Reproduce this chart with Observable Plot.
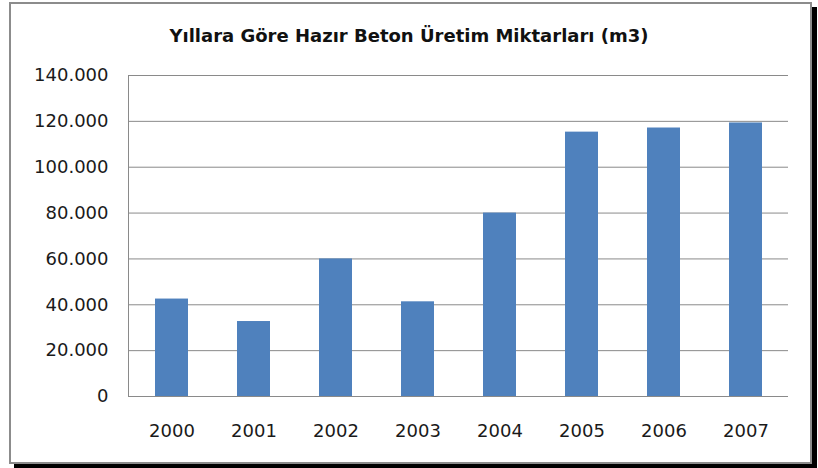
<!DOCTYPE html>
<html>
<head>
<meta charset="utf-8">
<script src="https://cdn.jsdelivr.net/npm/d3@7"></script>
<script src="https://cdn.jsdelivr.net/npm/@observablehq/plot@0.6"></script>
<style>
  html, body { margin: 0; padding: 0; background: #fff; }
  #wrap { position: relative; width: 818px; height: 468px; overflow: hidden; }
  #frame { position: absolute; left: 9px; top: 2px; width: 799px; height: 458px;
           border: 2px solid #8c8c8c; box-shadow: 5px 5px 0 #000; background: #fff; }
  #title { position: absolute; left: 0; top: 25px; width: 818px; text-align: center;
           font-family: "DejaVu Sans", sans-serif; font-weight: bold; font-size: 18px; color: #111; line-height: 22px; }
  #chart { position: absolute; left: 0; top: 0; }
</style>
</head>
<body>
<div id="wrap">
  <div id="frame"></div>
  <div id="title">Yıllara Göre Hazır Beton Üretim Miktarları (m3)</div>
  <div id="chart"></div>
</div>
<script>
const years = ["2000", "2001", "2002", "2003", "2004", "2005", "2006", "2007"];
const production = [42500, 32700, 60000, 41300, 80000, 115300, 117100, 119300];
const yTicks = [0, 20000, 40000, 60000, 80000, 100000, 120000, 140000];

const data = years.map((y, i) => ({year: y, value: production[i]}));
const fmt = d => d === 0 ? "0" : d3.format(",")(d).replace(/,/g, ".");

const chart = Plot.plot({
  width: 818,
  height: 468,
  marginLeft: 128,
  marginRight: 30,
  marginTop: 75,
  marginBottom: 72,
  style: {background: "transparent", fontFamily: "DejaVu Sans, sans-serif", fontSize: "18px", color: "#1a1a1a"},
  x: {domain: years, paddingInner: 0.6, paddingOuter: 0.3, label: null},
  y: {domain: [0, 140000], label: null},
  marks: [
    Plot.gridY(yTicks, {stroke: "#8a8a8a", strokeOpacity: 1, strokeWidth: 1}),
    Plot.barY(data, {x: "year", y: "value", fill: "#4f81bd"}),
    Plot.ruleY([0], {stroke: "#8a8a8a", strokeWidth: 1}),
    Plot.frame({anchor: "left", stroke: "#8a8a8a"}),
    Plot.axisY(yTicks, {tickSize: 0, tickPadding: 20, tickFormat: fmt, label: null}),
    Plot.axisX({tickSize: 0, tickPadding: 28, label: null})
  ]
});
document.getElementById("chart").appendChild(chart);
</script>
</body>
</html>
